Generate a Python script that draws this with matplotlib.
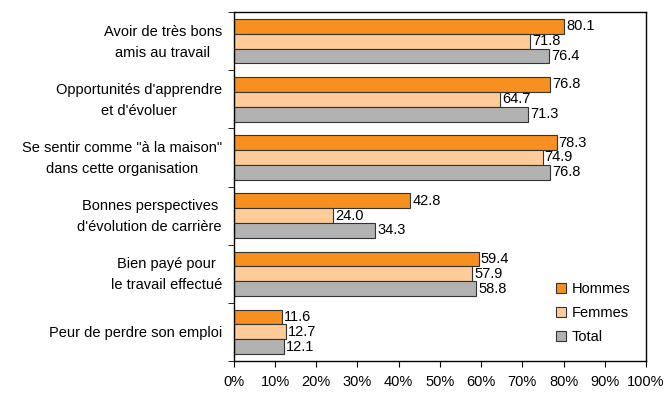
import matplotlib.pyplot as plt
import matplotlib.transforms as mtransforms
import numpy as np

plt.rcParams['font.family'] = ['Liberation Sans', 'DejaVu Sans']

categories = ["Avoir de très bons\namis au travail",
              "Opportunités d'apprendre\net d'évoluer",
              "Se sentir comme \"à la maison\"\ndans cette organisation",
              "Bonnes perspectives\nd'évolution de carrière",
              "Bien payé pour\nle travail effectué",
              "Peur de perdre son emploi"]
hommes = [80.1, 76.8, 78.3, 42.8, 59.4, 11.6]
femmes = [71.8, 64.7, 74.9, 24.0, 57.9, 12.7]
total = [76.4, 71.3, 76.8, 34.3, 58.8, 12.1]
series = [("Hommes", hommes, "#F7901E"),
          ("Femmes", femmes, "#FFCC99"),
          ("Total", total, "#B2B2B2")]

fig = plt.figure(figsize=(6.68, 3.97), dpi=100)
ax = fig.add_axes([0.350, 0.0907, 0.617, 0.879])

y = np.arange(len(categories))
h = 0.255
for i, (name, vals, col) in enumerate(series):
    pos = y + (i - 1) * h
    bars = ax.barh(pos, vals, h, color=col, edgecolor="#333333", linewidth=0.8, label=name)
    ax.bar_label(bars, labels=[f"{v:.1f}" for v in vals], padding=1.5, fontsize=10.5)

ax.set_xlim(0, 100)
ax.set_ylim(len(categories) - 0.5, -0.5)
ax.set_xticks(np.arange(0, 101, 10))
ax.set_xticklabels([f"{t}%" for t in range(0, 101, 10)], fontsize=10.5)
ax.set_yticks(y)
ax.set_yticklabels(categories, fontsize=10.5, multialignment="center", linespacing=1.65)
ax.set_yticks(np.arange(-0.5, len(categories)), minor=True)
ax.tick_params(axis="y", which="major", length=0, pad=8.5)
ax.tick_params(axis="y", which="minor", length=4, direction="out")
ax.tick_params(axis="x", length=4, direction="out", pad=6)
for s in ax.spines.values():
    s.set_linewidth(1.0)

# nudge two-line category labels up a little
offset = mtransforms.ScaledTranslation(0, 0.04, fig.dpi_scale_trans)
for lbl, cat in zip(ax.get_yticklabels(), categories):
    if "\n" in cat:
        lbl.set_transform(lbl.get_transform() + offset)

ax.legend(loc="lower right", bbox_to_anchor=(0.995, 0.01), frameon=False, fontsize=10.5,
          handlelength=0.7, handleheight=0.7, labelspacing=0.7, handletextpad=0.4)

fig.savefig("out.png", dpi=100)
